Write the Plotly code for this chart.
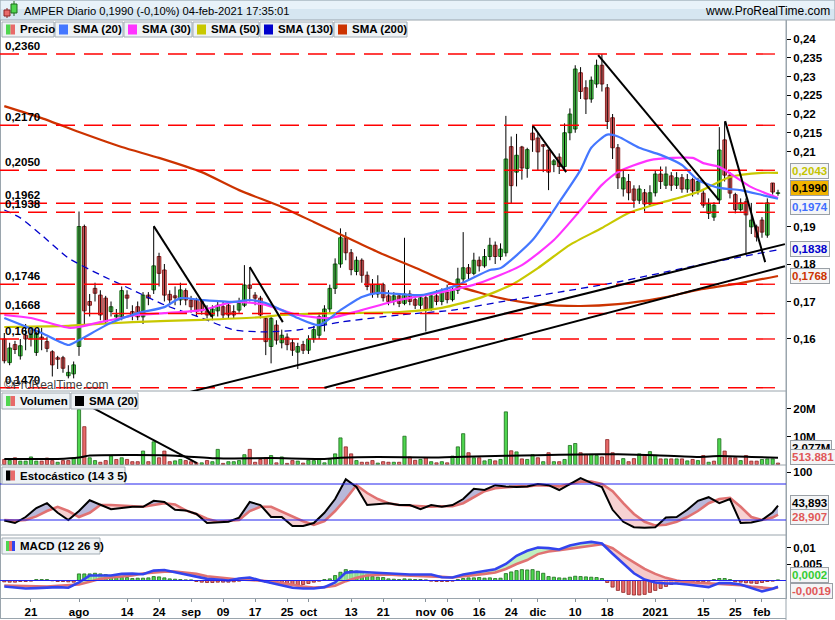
import plotly.graph_objects as go

W, H = 835, 620
ML, MR, MT, MB = 0, 49, 20, 22
PW, PH = W - ML - MR, H - MT - MB


def fx(px):
    return (px - ML) / PW


def fy(py):
    return (H - MB - py) / PH


FONT = "Liberation Sans, Arial, sans-serif"

# ---------------- data ----------------
tick_idx = [5, 14, 23, 29, 35, 41, 47, 53, 57, 65, 71, 79, 83, 89, 95, 100, 107, 113, 122, 131, 137, 142]
tick_txt = ["21", "ago", "14", "24", "sep", "09", "17", "25", "oct", "13", "21", "nov", "06", "16", "24",
            "dic", "10", "18", "2021", "15", "25", "feb"]

open_ = [
    .1600, .1537, .1585, .1555, .1610, .1600, .1564, .1605, .1593, .1566,
    .1550, .1550, .1502, .1507, .1580, .1900, .1700, .1735, .1717, .1709,
    .1673, .1659, .1659, .1717, .1673, .1686, .1659, .1717, .1731, .1820,
    .1784, .1719, .1715, .1704, .1729, .1704, .1704, .1700, .1675, .1662,
    .1675, .1686, .1690, .1673, .1677, .1690, .1744, .1717, .1709, .1655,
    .1580, .1637, .1590, .1605, .1590, .1565, .1585, .1570, .1600, .1610,
    .1640, .1680, .1735, .1800, .1870, .1830, .1780, .1810, .1770, .1745,
    .1720, .1745, .1715, .1700, .1715, .1695, .1720, .1705, .1690, .1710,
    .1680, .1715, .1700, .1725, .1705, .1730, .1760, .1790, .1775, .1810,
    .1795, .1820, .1850, .1820, .1830, .2113, .2045, .2112, .2055, .2149,
    .2136, .2118, .2104, .2065, .2085, .2060, .2150, .2160, .2310, .2270,
    .2240, .2280, .2330, .2270, .2190, .2110, .2000, .2020, .2000, .1970,
    .1990, .1960, .1990, .2040, .2010, .2035, .2010, .2030, .2000, .2025,
    .1995, .1989, .1935, .1925, .1971, .2131, .2037, .1985, .1945, .1966,
    .1899, .1899, .1917, .1877, .2016, .1988]
high = [
    .1616, .1590, .1595, .1600, .1640, .1625, .1620, .1630, .1605, .1570,
    .1555, .1555, .1530, .1540, .1940, .1905, .1720, .1750, .1730, .1715,
    .1700, .1680, .1740, .1730, .1690, .1700, .1725, .1725, .1900, .1830,
    .1800, .1730, .1740, .1750, .1735, .1715, .1710, .1705, .1690, .1690,
    .1700, .1700, .1700, .1690, .1710, .1797, .1790, .1725, .1715, .1660,
    .1660, .1650, .1625, .1615, .1600, .1590, .1595, .1610, .1635, .1670,
    .1690, .1745, .1815, .1895, .1885, .1840, .1820, .1815, .1780, .1760,
    .1770, .1750, .1730, .1725, .1720, .1870, .1730, .1715, .1720, .1720,
    .1725, .1730, .1735, .1745, .1740, .1790, .1885, .1800, .1830, .1820,
    .1840, .1870, .1860, .1855, .2195, .2140, .2147, .2115, .2110, .2170,
    .2149, .2120, .2105, .2080, .2095, .2175, .2215, .2330, .2325, .2290,
    .2300, .2345, .2360, .2280, .2200, .2120, .2050, .2040, .2010, .2010,
    .2000, .2010, .2050, .2060, .2060, .2045, .2045, .2040, .2040, .2030,
    .2030, .2000, .1975, .1965, .2165, .2180, .2045, .1990, .1975, .1975,
    .1963, .1905, .1925, .1975, .2016, .1998]
low = [
    .1535, .1530, .1560, .1545, .1570, .1580, .1555, .1570, .1565, .1500,
    .1520, .1510, .1495, .1495, .1555, .1640, .1660, .1700, .1650, .1640,
    .1660, .1650, .1650, .1680, .1650, .1650, .1640, .1690, .1720, .1740,
    .1700, .1690, .1690, .1690, .1690, .1670, .1660, .1665, .1655, .1650,
    .1660, .1655, .1655, .1655, .1670, .1685, .1700, .1690, .1655, .1557,
    .1535, .1585, .1575, .1570, .1555, .1520, .1560, .1560, .1590, .1600,
    .1620, .1670, .1720, .1790, .1810, .1770, .1770, .1750, .1730, .1710,
    .1710, .1700, .1690, .1690, .1685, .1690, .1690, .1680, .1680, .1620,
    .1675, .1690, .1690, .1695, .1700, .1720, .1750, .1760, .1770, .1780,
    .1790, .1810, .1800, .1810, .1820, .1960, .2007, .2025, .2030, .2099,
    .2050, .2045, .1997, .2045, .2040, .2050, .2130, .2150, .2240, .2200,
    .2230, .2270, .2260, .2160, .2080, .2000, .1980, .1970, .1950, .1960,
    .1940, .1955, .1980, .2000, .2000, .1995, .2000, .1990, .1990, .1980,
    .1985, .1950, .1920, .1915, .1960, .2020, .1975, .1935, .1940, .1824,
    .1880, .1860, .1870, .1870, .1985, .1982]
close = [
    .1542, .1576, .1572, .1582, .1600, .1612, .1615, .1600, .1575, .1531,
    .1546, .1522, .1511, .1531, .1900, .1675, .1690, .1722, .1664, .1646,
    .1686, .1664, .1729, .1709, .1664, .1659, .1717, .1709, .1795, .1775,
    .1717, .1704, .1710, .1731, .1704, .1686, .1673, .1675, .1664, .1680,
    .1690, .1664, .1664, .1664, .1695, .1744, .1735, .1709, .1664, .1593,
    .1655, .1597, .1610, .1585, .1570, .1580, .1570, .1600, .1625, .1660,
    .1680, .1735, .1800, .1870, .1830, .1785, .1810, .1770, .1740, .1720,
    .1745, .1710, .1700, .1715, .1695, .1720, .1700, .1690, .1710, .1680,
    .1715, .1700, .1725, .1705, .1730, .1760, .1790, .1775, .1810, .1795,
    .1820, .1850, .1820, .1840, .2080, .2009, .2090, .2056, .2105, .2131,
    .2099, .2114, .2045, .2075, .2060, .2150, .2200, .2320, .2260, .2240,
    .2290, .2330, .2280, .2180, .2110, .2030, .2030, .1990, .1970, .2000,
    .1960, .1990, .2040, .2020, .2040, .2010, .2030, .2000, .2025, .1995,
    .2020, .1957, .1960, .1957, .2104, .2037, .1989, .1945, .1963, .1931,
    .1917, .1872, .1885, .1963, .1992, .1990]

volume_m = [
    1.8, 1.5, 2.4, 1.2, 1.2, 2.7, 1.2, 1.2, 2.3, 1.4,
    0.8, 1.4, 1.4, 2.3, 19.6, 13.5, 2.4, 1.4, 0.8, 1.4,
    3.0, 1.8, 2.4, 1.8, 1.0, 1.0, 4.8, 1.0, 8.1, 2.4,
    4.8, 1.0, 1.3, 1.8, 1.4, 1.0, 0.6, 0.6, 1.4, 1.0,
    5.4, 0.4, 1.0, 1.0, 1.4, 3.5, 5.4, 0.8, 1.8, 2.4,
    3.2, 0.6, 2.7, 0.4, 1.4, 1.2, 0.5, 1.5, 1.4, 2.0,
    0.6, 1.8, 3.8, 9.5, 6.3, 3.8, 1.4, 0.8, 0.8, 1.4,
    0.5, 1.0, 0.8, 0.8, 0.8, 10.1, 2.7, 1.5, 1.8, 2.4,
    1.0, 0.6, 1.0, 0.6, 3.0, 6.3, 11.0, 4.2, 2.4, 2.4,
    1.3, 1.8, 1.3, 1.8, 18.8, 4.9, 4.5, 2.0, 1.8, 3.5,
    2.4, 1.0, 4.2, 1.0, 1.0, 1.8, 6.8, 7.5, 4.2, 3.6,
    3.6, 3.2, 2.7, 8.9, 4.2, 1.4, 2.1, 1.0, 2.1, 3.8,
    3.5, 4.6, 3.2, 2.0, 2.0, 2.0, 2.0, 2.0, 1.3, 1.8,
    1.4, 3.2, 0.8, 1.2, 9.2, 4.8, 2.4, 2.4, 1.4, 3.2,
    1.2, 1.2, 1.8, 2.0, 2.0, 0.51]

vsma_idx = [0, 10, 14, 16, 30, 34, 40, 50, 60, 63, 70, 80, 86, 94, 100, 108, 115, 122, 130, 134, 140, 145]
vsma_val = [2.0, 2.0, 2.5, 3.2, 3.3, 2.9, 2.2, 2.3, 2.0, 2.4, 2.7, 2.5, 2.8, 3.1, 3.3, 3.6, 3.7, 3.3, 2.7,
            3.0, 2.7, 2.4]

sma20_idx = [0, 7, 12, 14, 20, 25, 30, 33, 37, 43, 46, 49, 52, 55, 59, 63, 67, 70, 78, 85, 91, 93, 99, 104,
             108, 110, 113, 115, 119, 123, 127, 130, 134, 138, 142, 145]
sma20_val = [.1656, .1616, .1584, .1597, .1643, .1669, .1685, .1709, .1704, .1699, .1704, .1696, .1677,
             .1656, .1637, .1677, .1712, .1723, .1717, .1744, .1784, .1789, .1864, .1965, .2051, .2110,
             .2145, .2140, .2110, .2091, .2064, .2024, .2003, .1997, .1984, .1974]
sma30_idx = [0, 5, 12, 14, 18, 25, 30, 37, 43, 49, 52, 55, 61, 67, 74, 82, 89, 97, 103, 108, 112, 115, 121,
             129, 131, 134, 140, 145]
sma30_val = [.1664, .1656, .1630, .1632, .1645, .1664, .1669, .1677, .1699, .1691, .1677, .1664, .1656,
             .1677, .1704, .1725, .1749, .1797, .1864, .1944, .2011, .2045, .2077, .2083, .2069, .2059,
             .2005, .1976]
sma50_idx = [0, 12, 14, 24, 37, 49, 52, 63, 74, 82, 89, 95, 100, 106, 112, 117, 123, 130, 136, 142, 145]
sma50_val = [.1632, .1635, .1637, .1645, .1651, .1659, .1664, .1669, .1672, .1683, .1709, .1744, .1789,
             .1851, .1896, .1936, .1963, .1992, .2032, .2043, .2043]
sma130_idx = [0, 3, 7, 12, 18, 24, 30, 37, 43, 49, 55, 63, 74, 84, 93, 104, 115, 130, 145]
sma130_val = [.1944, .1923, .1877, .1816, .1771, .1731, .1691, .1656, .1624, .1619, .1624, .1645, .1664,
              .1677, .1699, .1725, .1752, .1797, .1838]
sma200_idx = [0, 7, 14, 22, 29, 37, 44, 52, 58, 64, 70, 78, 85, 93, 100, 108, 115, 123, 130, 138, 145]
sma200_val = [.2221, .2189, .2152, .2112, .2083, .2045, .1997, .1952, .1912, .1872, .1832, .1784, .1741,
              .1709, .1693, .1688, .1693, .1709, .1731, .1749, .1768]

osc_idx = [0, 2, 4, 6, 8, 10, 12, 14, 16, 18, 20, 22, 24, 26, 28, 30, 32, 34, 36, 38, 40, 42, 44, 46, 48,
           50, 52, 54, 56, 58, 60, 62, 64, 66, 68, 70, 72, 74, 76, 78, 80, 82, 84, 86, 88, 90, 92, 94, 96,
           98, 100, 102, 104, 106, 108, 110, 112, 114, 116, 118, 120, 122, 124, 126, 128, 130, 132, 134,
           136, 138, 140, 142, 144, 145]
stoch_k = [19, 15, 25, 40, 48, 32, 20, 35, 53, 45, 38, 40, 42, 42, 52, 50, 37, 36, 30, 15, 16, 17, 24, 50,
           45, 25, 25, 10, 10, 15, 32, 55, 88, 75, 45, 47, 48, 45, 45, 38, 45, 42, 45, 55, 72, 70, 78, 76,
           75, 76, 80, 78, 70, 80, 90, 82, 75, 37, 17, 8, 7, 8, 24, 25, 37, 52, 58, 48, 55, 15, 16, 20, 33,
           43.893]
stoch_d = [20, 19, 20, 26, 35, 42, 35, 25, 32, 45, 45, 44, 42, 42, 45, 48, 46, 36, 30, 22, 17, 18, 20, 35,
           42, 42, 34, 25, 18, 12, 18, 35, 55, 78, 65, 55, 48, 45, 44, 43, 42, 43, 43, 48, 58, 68, 73, 75,
           76, 76, 78, 77, 76, 80, 84, 84, 80, 68, 48, 30, 17, 11, 12, 17, 25, 35, 48, 55, 57, 42, 25, 20,
           24, 28.907]
macd_line = [-0.0018, -0.0022, -0.0024, -0.0023, -0.0022, -0.0020, -0.0022, -0.0006, 0.0015, 0.0016,
             0.0015, 0.0020, 0.0021, 0.0019, 0.0030, 0.0032, 0.0025, 0.0020, 0.0012, 0.0005, 0.0003,
             0.0000, 0.0006, 0.0009, 0.0000, -0.0007, -0.0016, -0.0022, -0.0024, -0.0024, -0.0020,
             -0.0006, 0.0024, 0.0027, 0.0025, 0.0023, 0.0021, 0.0018, 0.0018, 0.0018, 0.0018, 0.0010,
             0.0009, 0.0018, 0.0024, 0.0030, 0.0034, 0.0050, 0.0075, 0.0090, 0.0100, 0.0098, 0.0094,
             0.0106, 0.0113, 0.0117, 0.0112, 0.0081, 0.0053, 0.0022, 0.0003, -0.0006, -0.0009, -0.0009,
             -0.0012, -0.0015, -0.0020, -0.0008, -0.0008, -0.0012, -0.0023, -0.0033, -0.0025, -0.0019]
macd_signal = [-0.0015, -0.0016, -0.0017, -0.0018, -0.0018, -0.0016, -0.0015, -0.0012, -0.0004, 0.0005,
               0.0009, 0.0012, 0.0015, 0.0021, 0.0025, 0.0027, 0.0027, 0.0023, 0.0020, 0.0013, 0.0009,
               0.0006, 0.0003, 0.0002, 0.0000, -0.0003, -0.0008, -0.0014, -0.0018, -0.0021, -0.0020,
               -0.0016, -0.0002, 0.0008, 0.0015, 0.0017, 0.0018, 0.0016, 0.0015, 0.0015, 0.0014, 0.0011,
               0.0009, 0.0012, 0.0017, 0.0020, 0.0024, 0.0035, 0.0050, 0.0062, 0.0080, 0.0088, 0.0092,
               0.0096, 0.0100, 0.0104, 0.0110, 0.0098, 0.0075, 0.0055, 0.0035, 0.0020, 0.0008, 0.0000,
               -0.0005, -0.0007, -0.0009, -0.0010, -0.0011, -0.0014, -0.0018, -0.0022, -0.0024, -0.0021]
macd_hist = [
    -0.0004, -0.0005, -0.0005, -0.0003, -0.0003, -0.0002, 0.0003, 0.0003, 0.0003, -0.0001,
    -0.0003, -0.0003, -0.0004, -0.0005, 0.0020, 0.0020, 0.0020, 0.0022, 0.0020, 0.0018,
    0.0014, 0.0012, 0.0010, 0.0009, 0.0006, 0.0007, 0.0007, 0.0008, 0.0012, 0.0011,
    0.0008, 0.0005, 0.0004, 0.0003, 0.0002, 0.0002, -0.0003, -0.0005, -0.0006, -0.0006,
    -0.0005, -0.0005, -0.0005, -0.0004, -0.0002, 0.0001, 0.0003, 0.0003, -0.0002, -0.0005,
    -0.0008, -0.0010, -0.0013, -0.0015, -0.0016, -0.0014, -0.0012, -0.0009, -0.0005, -0.0002,
    0.0003, 0.0005, 0.0015, 0.0025, 0.0033, 0.0030, 0.0028, 0.0026, 0.0020, 0.0012,
    0.0010, 0.0009, 0.0005, 0.0004, 0.0003, 0.0005, 0.0004, 0.0003, 0.0003, 0.0002,
    -0.0002, -0.0003, -0.0003, -0.0003, -0.0002, 0.0003, 0.0006, 0.0008, 0.0008, 0.0009,
    0.0007, 0.0008, 0.0006, 0.0007, 0.0021, 0.0026, 0.0030, 0.0033, 0.0032, 0.0033,
    0.0028, 0.0022, 0.0012, 0.0010, 0.0008, 0.0007, 0.0010, 0.0013, 0.0012, 0.0011,
    0.0010, 0.0009, 0.0006, -0.0006, -0.0020, -0.0030, -0.0036, -0.0042, -0.0044, -0.0044,
    -0.0042, -0.0036, -0.0030, -0.0024, -0.0018, -0.0012, -0.0006, -0.0005, -0.0004, -0.0004,
    -0.0003, -0.0004, -0.0002, 0.0003, 0.0006, 0.0006, 0.0003, -0.0004, -0.0005, -0.0007,
    -0.0008, -0.0009, -0.0006, -0.0003, -0.0002, 0.0002]

level_vals = [0.2360, 0.2170, 0.2050, 0.1962, 0.1938, 0.1746, 0.1668, 0.1600, 0.1470]
level_txt = ["0,2360", "0,2170", "0,2050", "0,1962", "0,1938", "0,1746", "0,1668", "0,1600", "0,1470"]

# hand-drawn trend lines (bar index, price)
trend_lines = [
    (34.8, 0.1459, 146.3, 0.1853),
    (60.0, 0.1470, 146.3, 0.1794),
    (28.0, 0.1901, 38.9, 0.1659),
    (46.0, 0.1792, 52.2, 0.1645),
    (99.1, 0.2168, 105.3, 0.2045),
    (111.3, 0.2357, 133.9, 0.1971),
    (135.1, 0.2181, 142.6, 0.1805),
]
vol_trend = (16.6, 20.2, 36.1, 0.5)

price_ticks = [0.16, 0.17, 0.18, 0.19, 0.21, 0.215, 0.22, 0.225, 0.23, 0.235, 0.24]
price_tick_txt = ["0,16", "0,17", "0,18", "0,19", "0,21", "0,215", "0,22", "0,225", "0,23", "0,235", "0,24"]

N = len(close)
XR = [-0.806, 146.5]

fig = go.Figure()

# ---------------- price pane ----------------
wx, wy = [], []
for i in range(N):
    wx += [i, i, None]
    wy += [low[i], high[i], None]
fig.add_trace(go.Scatter(x=wx, y=wy, mode="lines", line=dict(color="black", width=1),
                         xaxis="x", yaxis="y", hoverinfo="skip"))
up = [i for i in range(N) if close[i] >= open_[i]]
dn = [i for i in range(N) if close[i] < open_[i]]
for ids, fc, lc in [(up, "#4fd64f", "#1d6b1d"), (dn, "#e86a6a", "#8c2222")]:
    fig.add_trace(go.Bar(x=ids, base=[min(open_[i], close[i]) for i in ids],
                         y=[max(abs(close[i] - open_[i]), 0.00012) for i in ids],
                         width=0.68, marker=dict(color=fc, line=dict(color=lc, width=1)),
                         xaxis="x", yaxis="y", hoverinfo="skip"))

for ix, vals, col, dash, wd in [
    (sma200_idx, sma200_val, "#cc3300", "solid", 2.2),
    (sma130_idx, sma130_val, "#0000cc", "7px,5px", 1.3),
    (sma50_idx, sma50_val, "#c8c800", "solid", 2.2),
    (sma30_idx, sma30_val, "#ff33ff", "solid", 2.2),
    (sma20_idx, sma20_val, "#4477ff", "solid", 2.2),
]:
    fig.add_trace(go.Scatter(x=ix, y=vals, mode="lines", line=dict(color=col, width=wd, dash=dash,
                                                                   shape="spline", smoothing=0.6),
                             xaxis="x", yaxis="y", hoverinfo="skip"))

# ---------------- volume pane ----------------
vcol_up, vcol_dn = [], []
for i in range(N):
    ref = close[i - 1] if i > 0 else open_[i]
    (vcol_up if close[i] >= ref else vcol_dn).append(i)
for ids, fc, lc in [(vcol_up, "#4fd64f", "#1d6b1d"), (vcol_dn, "#e86a6a", "#8c2222")]:
    fig.add_trace(go.Bar(x=ids, y=[volume_m[i] for i in ids], width=0.6,
                         marker=dict(color=fc, line=dict(color=lc, width=0.8)),
                         xaxis="x", yaxis="y2", hoverinfo="skip"))
fig.add_trace(go.Scatter(x=vsma_idx, y=vsma_val, mode="lines",
                         line=dict(color="black", width=2, shape="spline", smoothing=0.5),
                         xaxis="x", yaxis="y2", hoverinfo="skip"))


def band(xs, a, b, col_up, col_dn, yax):
    px, pa, pb = [xs[0]], [a[0]], [b[0]]
    for i in range(1, len(xs)):
        d0 = a[i - 1] - b[i - 1]
        d1 = a[i] - b[i]
        if d0 * d1 < 0:
            t = d0 / (d0 - d1)
            xc = xs[i - 1] + t * (xs[i] - xs[i - 1])
            yc = a[i - 1] + t * (a[i] - a[i - 1])
            px.append(xc); pa.append(yc); pb.append(yc)
        px.append(xs[i]); pa.append(a[i]); pb.append(b[i])
    out = []
    j, n = 0, len(px)
    while j < n - 1:
        s = (pa[j] + pa[j + 1]) - (pb[j] + pb[j + 1]) >= 0
        k = j
        while k < n - 1 and (((pa[k] + pa[k + 1]) - (pb[k] + pb[k + 1])) >= 0) == s:
            k += 1
        xp = px[j:k + 1] + px[j:k + 1][::-1]
        yp = pa[j:k + 1] + pb[j:k + 1][::-1]
        out.append(go.Scatter(x=xp, y=yp, fill="toself", fillcolor=col_up if s else col_dn,
                              mode="lines", line=dict(width=0), xaxis="x", yaxis=yax, hoverinfo="skip"))
        j = k
    return out


# ---------------- stochastic pane ----------------
for tr in band(osc_idx, stoch_k, stoch_d, "rgba(160,160,205,0.75)", "rgba(242,180,180,0.6)", "y3"):
    fig.add_trace(tr)
fig.add_trace(go.Scatter(x=osc_idx, y=stoch_d, mode="lines", line=dict(color="#e07272", width=2.6),
                         xaxis="x", yaxis="y3", hoverinfo="skip"))
fig.add_trace(go.Scatter(x=osc_idx, y=stoch_k, mode="lines", line=dict(color="black", width=2),
                         xaxis="x", yaxis="y3", hoverinfo="skip"))

# ---------------- MACD pane ----------------
hpos = [i for i in range(N) if macd_hist[i] >= 0]
hneg = [i for i in range(N) if macd_hist[i] < 0]
for ids, fc, lc in [(hpos, "#4fd64f", "#1d6b1d"), (hneg, "#e86a6a", "#8c2222")]:
    fig.add_trace(go.Bar(x=ids, y=[macd_hist[i] for i in ids], width=0.6,
                         marker=dict(color=fc, line=dict(color=lc, width=0.8)),
                         xaxis="x", yaxis="y4", hoverinfo="skip"))
for tr in band(osc_idx, macd_line, macd_signal, "rgba(170,235,170,0.75)", "rgba(242,180,180,0.7)", "y4"):
    fig.add_trace(tr)
fig.add_trace(go.Scatter(x=osc_idx, y=macd_signal, mode="lines", line=dict(color="#e07272", width=2.6),
                         xaxis="x", yaxis="y4", hoverinfo="skip"))
fig.add_trace(go.Scatter(x=osc_idx, y=macd_line, mode="lines", line=dict(color="#3344ee", width=2.6),
                         xaxis="x", yaxis="y4", hoverinfo="skip"))

# ---------------- layout ----------------
TF = dict(family=FONT, size=11.5, color="black", weight="bold")
AX_LINE = "#9aa5ad"


def yax(domain, rng, tv, tt):
    return dict(domain=domain, range=rng, side="right", anchor="x", showline=True, linecolor=AX_LINE,
                ticks="outside", ticklen=4, tickcolor="black", tickvals=tv, ticktext=tt, tickfont=TF,
                showgrid=False, zeroline=False, automargin=False, fixedrange=True)


shapes = []
annos = []

# header
shapes.append(dict(type="rect", xref="paper", yref="paper", x0=fx(0), x1=fx(835), y0=fy(20), y1=fy(0),
                   fillcolor="#d6e6f1", line=dict(color=AX_LINE, width=1), layer="below"))
shapes.append(dict(type="rect", xref="paper", yref="paper", x0=fx(1), x1=fx(834), y0=fy(9), y1=fy(1),
                   fillcolor="#e8f2f9", line=dict(width=0), layer="below"))
# header icon
shapes.append(dict(type="line", xref="paper", yref="paper", x0=fx(7), x1=fx(7), y0=fy(18), y1=fy(8),
                   line=dict(color="#8c2222", width=1)))
shapes.append(dict(type="rect", xref="paper", yref="paper", x0=fx(4), x1=fx(10), y0=fy(16), y1=fy(10),
                   fillcolor="#e86a6a", line=dict(color="#8c2222", width=1)))
shapes.append(dict(type="line", xref="paper", yref="paper", x0=fx(14), x1=fx(14), y0=fy(16), y1=fy(1),
                   line=dict(color="#1d6b1d", width=1)))
shapes.append(dict(type="rect", xref="paper", yref="paper", x0=fx(11), x1=fx(17), y0=fy(13), y1=fy(4),
                   fillcolor="#4fd64f", line=dict(color="#1d6b1d", width=1)))
annos.append(dict(text="AMPER Diario 0,1990 (-0,10%) 04-feb-2021 17:35:01", xref="paper", yref="paper",
                  x=fx(22), y=fy(11), xanchor="left", yanchor="middle", showarrow=False,
                  font=dict(family=FONT, size=11.2, color="black")))
annos.append(dict(text="www.ProRealTime.com", xref="paper", yref="paper", x=fx(832), y=fy(11),
                  xanchor="right", yanchor="middle", showarrow=False,
                  font=dict(family=FONT, size=12, color="black")))

# pane separators and frame
for yy in [391, 465, 535]:
    shapes.append(dict(type="line", xref="paper", yref="paper", x0=0, x1=1, y0=fy(yy), y1=fy(yy),
                       line=dict(color=AX_LINE, width=1)))
shapes.append(dict(type="line", xref="paper", yref="paper", x0=fx(0.5), x1=fx(0.5), y0=fy(619), y1=fy(20),
                   line=dict(color=AX_LINE, width=1)))
shapes.append(dict(type="line", xref="paper", yref="paper", x0=1, x1=1, y0=fy(620), y1=fy(20),
                   line=dict(color=AX_LINE, width=1)))
shapes.append(dict(type="line", xref="paper", yref="paper", x0=0, x1=1, y0=fy(618.5), y1=fy(618.5),
                   line=dict(color=AX_LINE, width=1)))

# horizontal levels
for v, t in zip(level_vals, level_txt):
    shapes.append(dict(type="line", xref="paper", yref="y", x0=0, x1=fx(778), y0=v, y1=v,
                       line=dict(color="#ff0000", width=1.3, dash="19px,9px")))
    annos.append(dict(text=t, xref="paper", yref="y", x=fx(3), y=v, xanchor="left", yanchor="bottom",
                      showarrow=False, yshift=0, font=TF))

# trend lines
for x0, y0, x1, y1 in trend_lines:
    shapes.append(dict(type="line", xref="x", yref="y", x0=x0, y0=y0, x1=x1, y1=y1,
                       line=dict(color="black", width=2)))
shapes.append(dict(type="line", xref="x", yref="y2", x0=vol_trend[0], y0=vol_trend[1], x1=vol_trend[2],
                   y1=vol_trend[3], line=dict(color="black", width=2)))

# stochastic / macd reference lines
for v in [80, 20]:
    shapes.append(dict(type="line", xref="paper", yref="y3", x0=0, x1=1, y0=v, y1=v,
                       line=dict(color="#2222ee", width=1)))
shapes.append(dict(type="line", xref="paper", yref="y4", x0=0, x1=1, y0=0, y1=0,
                   line=dict(color="#2222ee", width=1)))


def legend_box(x0, x1, y0, y1, label, colors):
    shapes.append(dict(type="rect", xref="paper", yref="paper", x0=fx(x0), x1=fx(x1), y0=fy(y1), y1=fy(y0),
                       fillcolor="#eef2f5", line=dict(color="#a3adb5", width=1)))
    n = len(colors)
    w = 9.0 / n
    for k, c in enumerate(colors):
        shapes.append(dict(type="rect", xref="paper", yref="paper", x0=fx(x0 + 4 + k * w),
                           x1=fx(x0 + 4 + (k + 1) * w), y0=fy((y0 + y1) / 2 + 5), y1=fy((y0 + y1) / 2 - 5),
                           fillcolor=c, line=dict(width=0)))
    annos.append(dict(text=label, xref="paper", yref="paper", x=fx(x0 + 16), y=fy((y0 + y1) / 2),
                      xanchor="left", yanchor="middle", showarrow=False, font=TF))


legend_box(2, 54, 22, 37, "Precio", ["#4fd64f", "#e86a6a"])
legend_box(55, 123, 22, 37, "SMA (20)", ["#4477ff"])
legend_box(124, 192, 22, 37, "SMA (30)", ["#ff33ff"])
legend_box(193, 259, 22, 37, "SMA (50)", ["#c8c800"])
legend_box(260, 333, 22, 37, "SMA (130)", ["#0000cc"])
legend_box(334, 407, 22, 37, "SMA (200)", ["#cc3300"])
legend_box(2, 70, 393, 409, "Volumen", ["#4fd64f", "#e86a6a"])
legend_box(71, 138, 393, 409, "SMA (20)", ["black"])
legend_box(2, 125, 467, 484, "Estocástico (14 3 5)", ["black", "#e86a6a"])
legend_box(2, 100, 538, 554, "MACD (12 26 9)", ["#4fd64f", "#e86a6a", "#3344ee"])

annos.append(dict(text="©ProRealTime.com", xref="paper", yref="paper", x=fx(2), y=fy(385), xanchor="left",
                  yanchor="middle", showarrow=False, font=dict(family=FONT, size=12, color="#444444")))


def value_box(py, text, color, bg="#f4f5f6"):
    annos.append(dict(text=text, xref="paper", yref="paper", x=fx(790), y=fy(py), xanchor="left",
                      yanchor="middle", showarrow=False, bgcolor=bg, bordercolor="#9aa0a6", borderwidth=1,
                      borderpad=1, font=dict(family=FONT, size=11.5, color=color, weight="bold")))


value_box(171.5, "0,2043", "#c4c400")
value_box(188.5, "0,1990", "black", "#f2b400")
value_box(206.5, "0,1974", "#3f6fff")
value_box(249, "0,1838", "#0000cc")
value_box(276, "0,1768", "#cc3300")
value_box(448, "2,077M", "black")
value_box(457, "513.881", "#e05858")
value_box(502.5, "43,893", "black")
value_box(516.5, "28,907", "#e05858")
value_box(575, "0,0002", "#33cc33")
value_box(590.5, "-0,0019", "#e05858")

fig.update_layout(
    width=W, height=H, margin=dict(l=ML, r=MR, t=MT, b=MB, pad=0),
    paper_bgcolor="white", plot_bgcolor="white", showlegend=False, barmode="overlay",
    hovermode=False,
    xaxis=dict(domain=[0, 1], range=XR, anchor="y4", tickvals=tick_idx, ticktext=tick_txt, ticks="outside",
               ticklen=3, tickcolor="#8a949c", showline=True, linecolor=AX_LINE, showgrid=False,
               zeroline=False, tickfont=TF, automargin=False, fixedrange=True),
    yaxis=yax([207 / 578, 1], [0.14613, 0.24507], price_ticks, price_tick_txt),
    yaxis2=yax([133 / 578, 207 / 578], [-0.18, 26.25], [10, 20], ["10M", "20M"]),
    yaxis3=yax([63 / 578, 133 / 578], [-5, 111.7], [100], ["100"]),
    yaxis4=yax([0, 63 / 578], [-0.0053, 0.01379], [0.005, 0.01], ["0,005", "0,01"]),
    shapes=shapes, annotations=annos,
)

fig.write_html("out.html")
